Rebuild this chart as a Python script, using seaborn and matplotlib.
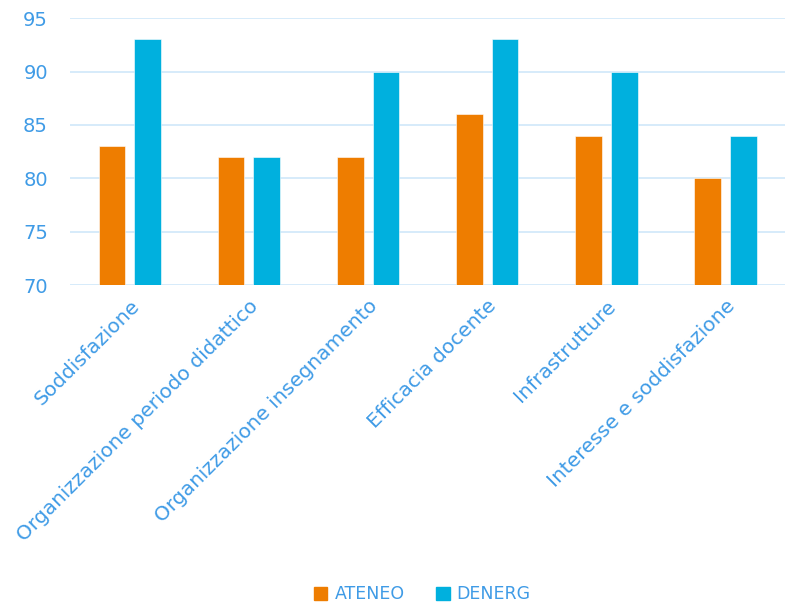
import matplotlib
matplotlib.use('Agg')
import pandas as pd
import seaborn as sns
import matplotlib.pyplot as plt
from matplotlib.patches import Patch

categories = ['Soddisfazione', 'Organizzazione periodo didattico',
              'Organizzazione insegnamento', 'Efficacia docente',
              'Infrastrutture', 'Interesse e soddisfazione']
ateneo = [83, 82, 82, 86, 84, 80]
denerg = [93, 82, 90, 93, 90, 84]
series = ['ATENEO', 'DENERG']

palette = {'ATENEO': '#EE7D00', 'DENERG': '#00B0DE'}
text_color = '#3f9be6'

df = pd.DataFrame({
    'categoria': categories * 2,
    'valore': ateneo + denerg,
    'serie': [series[0]] * len(categories) + [series[1]] * len(categories),
})

sns.set_style('white')
plt.rcParams['font.family'] = ['DejaVu Sans']

fig = plt.figure(figsize=(7.89, 6.04), dpi=100)
ax = fig.add_axes([0.089, 0.528, 0.906, 0.442])

sns.barplot(data=df, x='categoria', y='valore', hue='serie', palette=palette,
            saturation=1, width=0.6, gap=0.25, edgecolor='white', linewidth=0.4,
            ax=ax, zorder=3, legend=False)

ax.set_ylim(70, 95)
ax.set_yticks(range(70, 96, 5))
ax.grid(axis='y', color='#cfe8fa', linewidth=1.2, zorder=0)
ax.set_axisbelow(True)
sns.despine(ax=ax, left=True, bottom=True, right=True, top=True)
ax.set_xlabel('')
ax.set_ylabel('')
ax.tick_params(axis='both', length=0, colors=text_color)
ax.tick_params(axis='x', labelsize=14.5, pad=8)
ax.tick_params(axis='y', labelsize=14, pad=16)
plt.setp(ax.get_xticklabels(), rotation=45, ha='right', rotation_mode='anchor')

handles = [Patch(color=palette[s], label=s) for s in series]
leg = fig.legend(handles=handles, loc='lower center', bbox_to_anchor=(0.535, -0.025),
                 ncol=2, frameon=False, fontsize=12.5, handlelength=0.8,
                 handleheight=0.8, handletextpad=0.4, columnspacing=1.8)
for t in leg.get_texts():
    t.set_color(text_color)

fig.savefig('out.png', dpi=100)
